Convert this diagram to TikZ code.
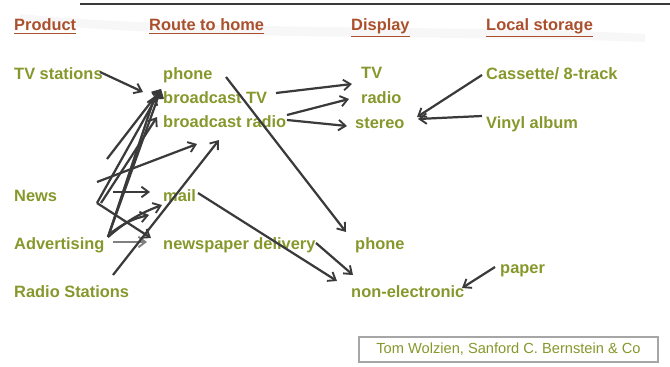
\documentclass[tikz,border=0pt]{standalone}
\usepackage{fontspec}
\setmainfont{Liberation Sans}
\usetikzlibrary{positioning, arrows.meta}

\definecolor{itemgreen}{RGB}{134,152,44}
\definecolor{headbrown}{RGB}{170,80,45}
\definecolor{linkgray}{RGB}{58,58,58}

\tikzset{
    head/.style={anchor=base west, inner sep=0pt, text=headbrown,
        font=\bfseries\fontsize{14}{16}\selectfont},
    item/.style={anchor=base west, inner sep=0pt, text=itemgreen,
        font=\bfseries\fontsize{14}{16}\selectfont},
    link/.style={draw=linkgray, line width=1.9pt,
        -{Straight Barb[length=6pt, width=9pt, line width=1.6pt]}},
    thinlink/.style={link, draw=gray, line width=1pt},
}

\begin{document}
\begin{tikzpicture}[x=0.03cm, y=-0.03cm]
    \useasboundingbox (0,0) rectangle (670,367);

    % faint swoosh and top rule
    \fill[black!3] (20,14) .. controls (200,32) and (450,24) .. (645,34)
        -- (645,42) .. controls (450,34) and (200,42) .. (20,22) -- cycle;
    \draw[linkgray, line width=1pt] (80,4) -- (670,4);

    % column heads
    \node[head] (hprod) at (14,31) {\underline{Product}};
    \node[head] (hroute) at (149,31) {\underline{Route to home}};
    \node[head] (hdisp) at (351,31) {\underline{Display}};
    \node[head] (hstore) at (486,31) {\underline{Local storage}};

    % products
    \node[item] (tvst) at (14,80) {TV stations};
    \node[item] (news) at (14,201) {News};
    \node[item] (adv) at (14,249) {Advertising};
    \node[item] (radst) at (14,297) {Radio Stations};

    % routes to home
    \node[item] (rphone) at (163,80) {phone};
    \node[item] (bctv) at (163,103.5) {broadcast TV};
    \node[item] (bcradio) at (163,127.5) {broadcast radio};
    \node[item] (mail) at (163,201) {mail};
    \node[item] (npdel) at (163,249) {newspaper delivery};

    % displays
    \node[item] (dtv) at (361,79) {TV};
    \node[item] (dradio) at (361,103) {radio};
    \node[item] (dstereo) at (355,128) {stereo};
    \node[item] (dphone) at (355,249) {phone};
    \node[item] (nonel) at (351,297) {non-electronic};

    % local storage
    \node[item] (cass) at (486,80) {Cassette/ 8-track};
    \node[item] (vinyl) at (486,128) {Vinyl album};
    \node[item] (paper) at (500,273) {paper};

    % credit
    \node[draw=gray!70, line width=1.5pt, inner xsep=12pt, inner ysep=3pt,
        text=itemgreen, font=\fontsize{12.5}{14}\selectfont,
        minimum width=8.97cm, minimum height=0.75cm] (credit) at (508.5,349.5)
        {Tom Wolzien, Sanford C. Bernstein \& Co};

    % arrow ends
    \coordinate (tvstE) at (100,72);
    \coordinate (tvIn) at (143,92);
    \coordinate (topIn) at (161,89);
    \coordinate (topIn2) at (155,96);
    \coordinate (radIn) at (157,117);
    \coordinate (newsV) at (97,203);
    \coordinate (newsV2) at (101,203);
    \coordinate (newsA) at (97,182);
    \coordinate (newsB) at (107,159);
    \coordinate (newsC) at (113,192);
    \coordinate (advV) at (108,237);
    \coordinate (advA) at (111,233);
    \coordinate (advB) at (113,242);
    \coordinate (radstA) at (113,275);
    \coordinate (midIn) at (197,144);
    \coordinate (radIn2) at (219,140);
    \coordinate (mailIn) at (150,192);
    \coordinate (mailIn2) at (149,215);
    \coordinate (mailIn3) at (162,205);
    \coordinate (npIn) at (151,238);
    \coordinate (npIn2) at (147,242);
    \coordinate (rphoneE) at (226,77);
    \coordinate (bctvE) at (276,93);
    \coordinate (bcradA) at (287,115);
    \coordinate (bcradB) at (287,120);
    \coordinate (mailE) at (198,193);
    \coordinate (npE) at (316,243);
    \coordinate (dtvW) at (352,84);
    \coordinate (dradW) at (349,99);
    \coordinate (dsterW) at (347,126);
    \coordinate (dphoneN) at (346,232);
    \coordinate (nonelA) at (337,281);
    \coordinate (nonelB) at (353,275);
    \coordinate (nonelC) at (462,288);
    \coordinate (cassW) at (482,75);
    \coordinate (vinylW) at (482,116);
    \coordinate (paperW) at (495,267);
    \coordinate (sterE) at (417,117);
    \coordinate (sterE2) at (418,119);

    % product -> route
    \draw[link] (tvstE) -- (tvIn);
    \draw[link] (newsB) -- (topIn);
    \draw[link] (newsV) -- (topIn);
    \draw[link] (advV) -- (topIn);
    \draw[link] (advV) -- (topIn2);
    \draw[link] (newsV2) -- (radIn);
    \draw[link] (newsA) -- (midIn);
    \draw[link] (newsC) -- (mailIn);
    \draw[link] (advA) to[bend left=12] (mailIn2);
    \draw[link] (advV) to[bend left=10] (mailIn3);
    \draw[link] (newsV) -- (npIn);
    \draw[thinlink] (advB) -- (npIn2);
    \draw[link] (radstA) -- (radIn2);

    % route -> display
    \draw[link] (rphoneE) -- (dphoneN);
    \draw[link] (bctvE) -- (dtvW);
    \draw[link] (bcradA) -- (dradW);
    \draw[link] (bcradB) -- (dsterW);
    \draw[link] (mailE) -- (nonelA);
    \draw[link] (npE) -- (nonelB);

    % storage -> display
    \draw[link] (cassW) -- (sterE);
    \draw[link] (vinylW) -- (sterE2);
    \draw[link] (paperW) -- (nonelC);
\end{tikzpicture}
\end{document}
